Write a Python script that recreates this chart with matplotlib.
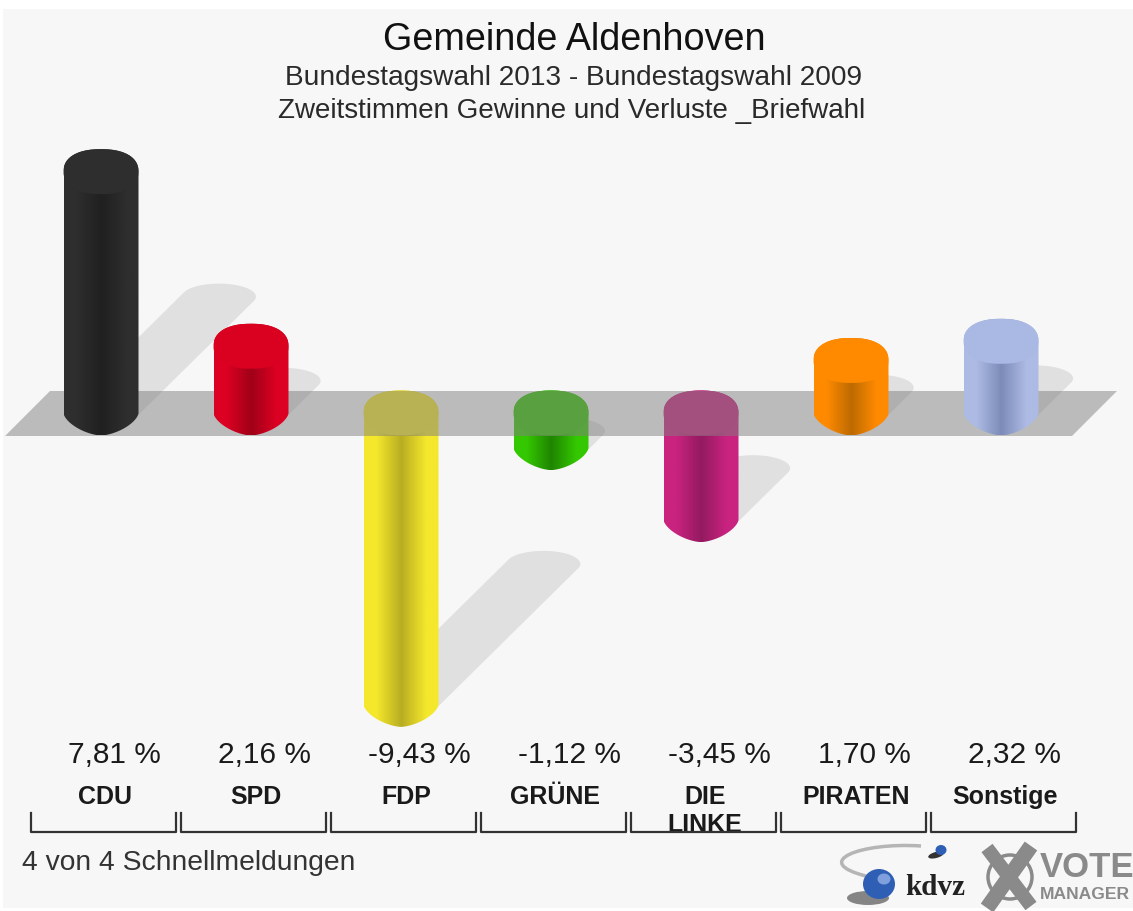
import matplotlib
matplotlib.use('Agg')
import matplotlib.pyplot as plt
import numpy as np
from matplotlib.patches import Polygon, Rectangle, Ellipse, PathPatch
from matplotlib.path import Path
from matplotlib.transforms import Affine2D

plt.rcParams['font.family'] = ['Liberation Sans', 'DejaVu Sans']

# data
parties = ['CDU', 'SPD', 'FDP', 'GRÜNE', 'DIE\nLINKE', 'PIRATEN', 'Sonstige']
values = [7.81, 2.16, -9.43, -1.12, -3.45, 1.70, 2.32]
cap_colors = ['#2e2e2e', '#d90020', '#f2e62a', '#33c400', '#c7217f', '#ff8a00', '#aab9e3']
edge_colors = ['#2e2e2e', '#dc0022', '#f5e82c', '#34c800', '#c9237f', '#ff8a00', '#adbbe4']
mid_colors = ['#202020', '#a00018', '#b8ad22', '#1f8500', '#931a60', '#bd6a00', '#7c8cb8']
label_x = [105, 255.5, 406, 555, 705, 856, 1005]

W, H = 1133, 911
fig = plt.figure(figsize=(W / 100, H / 100), dpi=100, facecolor='white')
ax = fig.add_axes([0, 0, 1, 1])
ax.axis('off')

# x in category number, y in percent, baseline at pixel y=413
x_scale = 150
y_scale = 30.9
xlim = (-101 / x_scale, (W - 101) / x_scale)
ylim = ((413 - H) / y_scale, 413 / y_scale)

# everything that is not a data mark is placed in pixels from the top left
px = Affine2D().scale(1, -1).translate(0, H)

ax.add_patch(Rectangle((3, 9), W, H - 12, fc='#f7f7f7', ec='none', transform=px, zorder=0))

half_w = 37.5 / x_scale
cap_h = 22.5 / y_scale


def rgb(c):
    return matplotlib.colors.to_rgb(c)


def arc(x0, y0, a, b, t0, t1, n=2.0):
    t = np.linspace(t0, t1, 50)
    c, s = np.cos(t), np.sin(t)
    return np.column_stack([x0 + a * np.sign(c) * np.abs(c) ** (2 / n),
                            y0 + b * np.sign(s) * np.abs(s) ** (2 / n)])


for i, v in enumerate(values):
    top = max(v, 0)
    bottom = min(v, 0)

    # shadow, an ellipse swept up and to the right
    sx = 15.1 / x_scale * abs(v)
    sy = 14.9 / y_scale * abs(v)
    a = 37 / x_scale
    b = 13 / y_scale
    t = np.linspace(0, 2 * np.pi, 200)
    far = np.cos(t) * sx / a + np.sin(t) * sy / b > 0
    shadow = np.column_stack([i + a * np.cos(t) + sx * far, bottom + b * np.sin(t) + sy * far])
    ax.add_patch(Polygon(shadow, fc='#e0e0e0', ec='none', zorder=1))

    # negative bars lie under the grey band, positive ones over it
    z = 2 if v < 0 else 4
    outline = np.vstack([
        arc(i, top, half_w, cap_h, 0, np.pi, 2.3),
        arc(i, bottom, half_w, cap_h, np.pi, 2 * np.pi, 1.6),
    ])
    body = Polygon(outline, fc='none', ec='none', zorder=z)
    ax.add_patch(body)
    grad = np.array([[rgb(edge_colors[i]), rgb(mid_colors[i]), rgb(edge_colors[i])]])
    im = ax.imshow(grad, extent=(i - half_w, i + half_w, bottom - cap_h, top + cap_h),
                   aspect='auto', interpolation='bilinear', zorder=z)
    im.set_clip_path(body)
    ax.add_patch(Polygon(arc(i, top, half_w, cap_h, 0, 2 * np.pi, 2.3), fc=cap_colors[i],
                         ec='none', zorder=z + 0.1))

# floor band
ax.add_patch(Polygon([(5, 436), (50, 391), (1117, 391), (1072, 436)], fc=(0.5, 0.5, 0.5, 0.5),
                     ec='none', transform=px, zorder=3))

ax.set_xlim(xlim)
ax.set_ylim(ylim)

# titles
ax.text(574, 50, 'Gemeinde Aldenhoven', fontsize=27.2, ha='center', color='#111111', transform=px)
ax.text(573.5, 85, 'Bundestagswahl 2013 - Bundestagswahl 2009', fontsize=20.2, ha='center',
        color='#2a2a2a', transform=px)
ax.text(571.5, 118, 'Zweitstimmen Gewinne und Verluste _Briefwahl', fontsize=20, ha='center',
        color='#2a2a2a', transform=px)

# value labels, party names, brackets
for i, v in enumerate(values):
    txt = f'{v:.2f}'.replace('.', ',') + ' %'
    ax.text(114 + 150 * i + (5 if v < 0 else 0), 763, txt, fontsize=21.5, ha='center',
            color='#1a1a1a', transform=px)
    ax.text(label_x[i], 785, parties[i], fontsize=18, ha='center', va='top', color='#1a1a1a',
            fontweight='bold', linespacing=1.2, transform=px)
    x0 = 31 + 150 * i
    ax.plot([x0, x0, x0 + 145, x0 + 145], [813, 832, 832, 813], color='#333333', lw=1.6,
            transform=px, zorder=5)

ax.text(22, 870, '4 von 4 Schnellmeldungen', fontsize=20.3, color='#333333', transform=px)

# kdvz logo
ax.add_patch(PathPatch(Path([(921, 846), (860, 842), (810, 862), (866, 876)],
                            [Path.MOVETO, Path.CURVE4, Path.CURVE4, Path.CURVE4]),
                       fc='none', ec='#b5b5b5', lw=2.5, transform=px, zorder=5))
ax.add_patch(Ellipse((868, 898), 42, 14, fc='#555555', ec='none', alpha=0.7, transform=px, zorder=5))
ax.add_patch(Ellipse((879, 884), 32, 30, fc='#2f5fb5', ec='none', transform=px, zorder=6))
ax.add_patch(Ellipse((884, 879), 13, 11, fc='#7fa0dc', ec='none', transform=px, zorder=6))
ax.add_patch(Ellipse((936, 855), 16, 6, fc='#333333', ec='none', angle=-15, transform=px, zorder=5))
ax.add_patch(Ellipse((941, 850), 11, 10, fc='#2f5fb5', ec='none', transform=px, zorder=6))
ax.text(905, 895, 'kdvz', fontsize=21, family=['Liberation Serif'], fontweight='bold',
        color='#222222', transform=px)

# vote manager logo
ax.add_patch(Ellipse((1010, 877), 44, 44, fc='none', ec='#8a8a8a', lw=2.5, transform=px, zorder=5))
ax.plot([987, 1031], [848, 906], color='#8a8a8a', lw=10, transform=px, zorder=6, solid_capstyle='butt')
ax.plot([1031, 987], [846, 908], color='#8a8a8a', lw=11, transform=px, zorder=6, solid_capstyle='butt')
ax.text(1040, 877, 'VOTE', fontsize=25, fontweight='bold', color='#8a8a8a', transform=px)
ax.text(1040, 899, 'MANAGER', fontsize=12.6, fontweight='bold', color='#8a8a8a', transform=px)

fig.savefig('out.png', dpi=100)
